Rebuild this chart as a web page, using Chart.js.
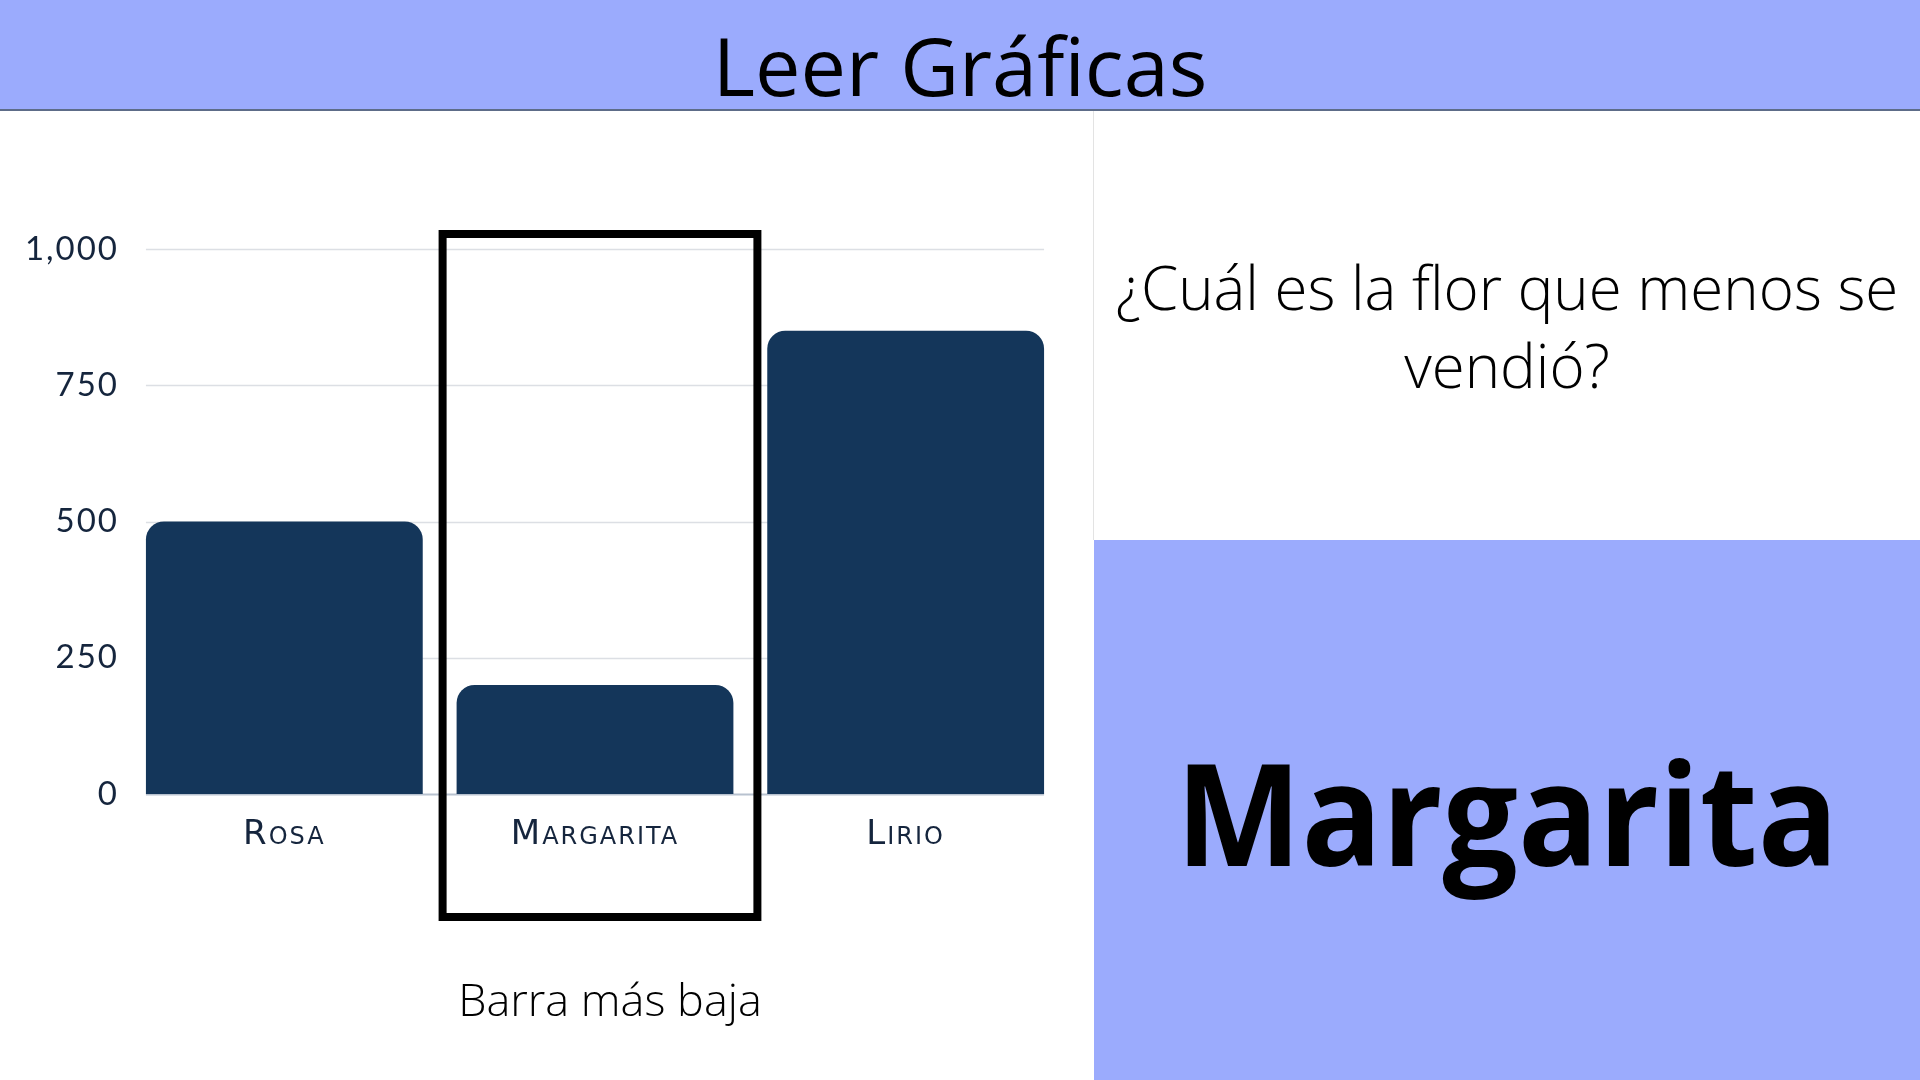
<!DOCTYPE html>
<html>
<head>
<meta charset="utf-8">
<script src="https://cdn.jsdelivr.net/npm/chart.js@4"></script>
<style>
  html, body { margin: 0; padding: 0; width: 1920px; height: 1080px; overflow: hidden; background: #fff; }
  .band { position: absolute; left: 0; top: 0; width: 1920px; height: 109px; background: #9babfd; border-bottom: 2px solid #5d6c88; }
  .title { position: absolute; left: 0; top: 24px; width: 1920px; text-align: center; font: 400 81px/81px "Open Sans"; color: #000; }
  .divider { position: absolute; left: 1093px; top: 111px; width: 1px; height: 429px; background: #e3e3e3; }
  .question { position: absolute; left: 1094px; top: 248px; width: 826px; text-align: center; font: 300 60px/78px "Open Sans"; color: #000; }
  .answerBox { position: absolute; left: 1094px; top: 540px; width: 826px; height: 540px; background: #9babfd; }
  .answer { position: absolute; left: 0; top: 0; width: 826px; text-align: center; font: 700 141px/141px "Open Sans"; color: #000; margin-top: 201px; transform: scaleX(0.946); }
  .caption { position: absolute; left: 310px; top: 976px; width: 600px; text-align: center; font: 300 45px/45px "Open Sans"; color: #000; }
  #wrap { position: absolute; left: 0; top: 110px; width: 1094px; height: 970px; }
</style>
</head>
<body>
<div class="band"></div>
<div class="title">Leer Gráficas</div>
<div class="divider"></div>
<div class="question">¿Cuál es la flor que menos se<br>vendió?</div>
<div class="answerBox"><div class="answer">Margarita</div></div>
<div id="wrap"><canvas id="flowerChart" width="1094" height="970"></canvas></div>
<div class="caption">Barra más baja</div>

<script>
  // datos
  const flores = ['Rosa', 'Margarita', 'Lirio'];
  const ventas = [500, 200, 850];
  const yTicks = [0, 250, 500, 750, 1000];
  const resaltada = 'Margarita';

  // lineas de la cuadricula solo de la primera a la ultima barra
  const gridPlugin = {
    id: 'gridBars',
    beforeDraw(chart) {
      chart.ctx.letterSpacing = '2px';
    },
    beforeDatasetsDraw(chart) {
      const ctx = chart.ctx;
      const bars = chart.getDatasetMeta(0).data;
      const first = bars[0], last = bars[bars.length - 1];
      const x0 = first.x - first.width / 2;
      const x1 = last.x + last.width / 2;
      const y = chart.scales.y;
      ctx.save();
      yTicks.forEach(v => {
        const py = Math.round(y.getPixelForValue(v)) + 0.5;
        ctx.strokeStyle = v === 0 ? '#b8c2cf' : '#dcdfe4';
        ctx.lineWidth = v === 0 ? 2 : 1.5;
        ctx.beginPath();
        ctx.moveTo(x0, py);
        ctx.lineTo(x1, py);
        ctx.stroke();
      });
      ctx.restore();
    }
  };

  // recuadro negro alrededor de la barra mas baja
  const boxPlugin = {
    id: 'boxLowest',
    afterDraw(chart) {
      const ctx = chart.ctx;
      const idx = flores.indexOf(resaltada);
      const bar = chart.getDatasetMeta(0).data[idx];
      const area = chart.chartArea;
      const half = bar.width / 2 + 19;
      const cx = bar.x + 5;
      ctx.save();
      ctx.strokeStyle = '#000';
      ctx.lineWidth = 8;
      ctx.strokeRect(cx - half, area.top - 15, half * 2, area.bottom - area.top + 138);
      ctx.restore();
    }
  };

  const ctx = document.getElementById('flowerChart').getContext('2d');
  new Chart(ctx, {
    type: 'bar',
    data: {
      labels: flores,
      datasets: [{
        data: ventas,
        backgroundColor: '#14365a',
        borderRadius: { topLeft: 18, topRight: 18, bottomLeft: 0, bottomRight: 0 },
        borderSkipped: false,
        categoryPercentage: 1,
        barPercentage: 0.891
      }]
    },
    options: {
      responsive: false,
      animation: false,
      events: [],
      layout: { padding: { top: 139, right: 33, left: 0, bottom: 0 } },
      plugins: { legend: { display: false }, tooltip: { enabled: false } },
      scales: {
        x: {
          grid: { display: false, drawTicks: false },
          border: { display: false },
          ticks: {
            padding: 21,
            color: '#15253d',
            font: { family: 'DejaVu Sans', size: 34, weight: 'small-caps 400' }
          },
          afterFit: s => { s.height = 286; }
        },
        y: {
          min: 0,
          max: 1000,
          afterBuildTicks: s => { s.ticks = yTicks.map(v => ({ value: v })); },
          grid: { display: false, drawTicks: false },
          border: { display: false },
          ticks: {
            padding: 10,
            color: '#15253d',
            font: { family: 'Lato', size: 33, weight: 400 },
            callback: v => v.toLocaleString('en-US')
          },
          afterFit: s => { s.width = 129; }
        }
      }
    },
    plugins: [gridPlugin, boxPlugin]
  });
</script>
</body>
</html>
